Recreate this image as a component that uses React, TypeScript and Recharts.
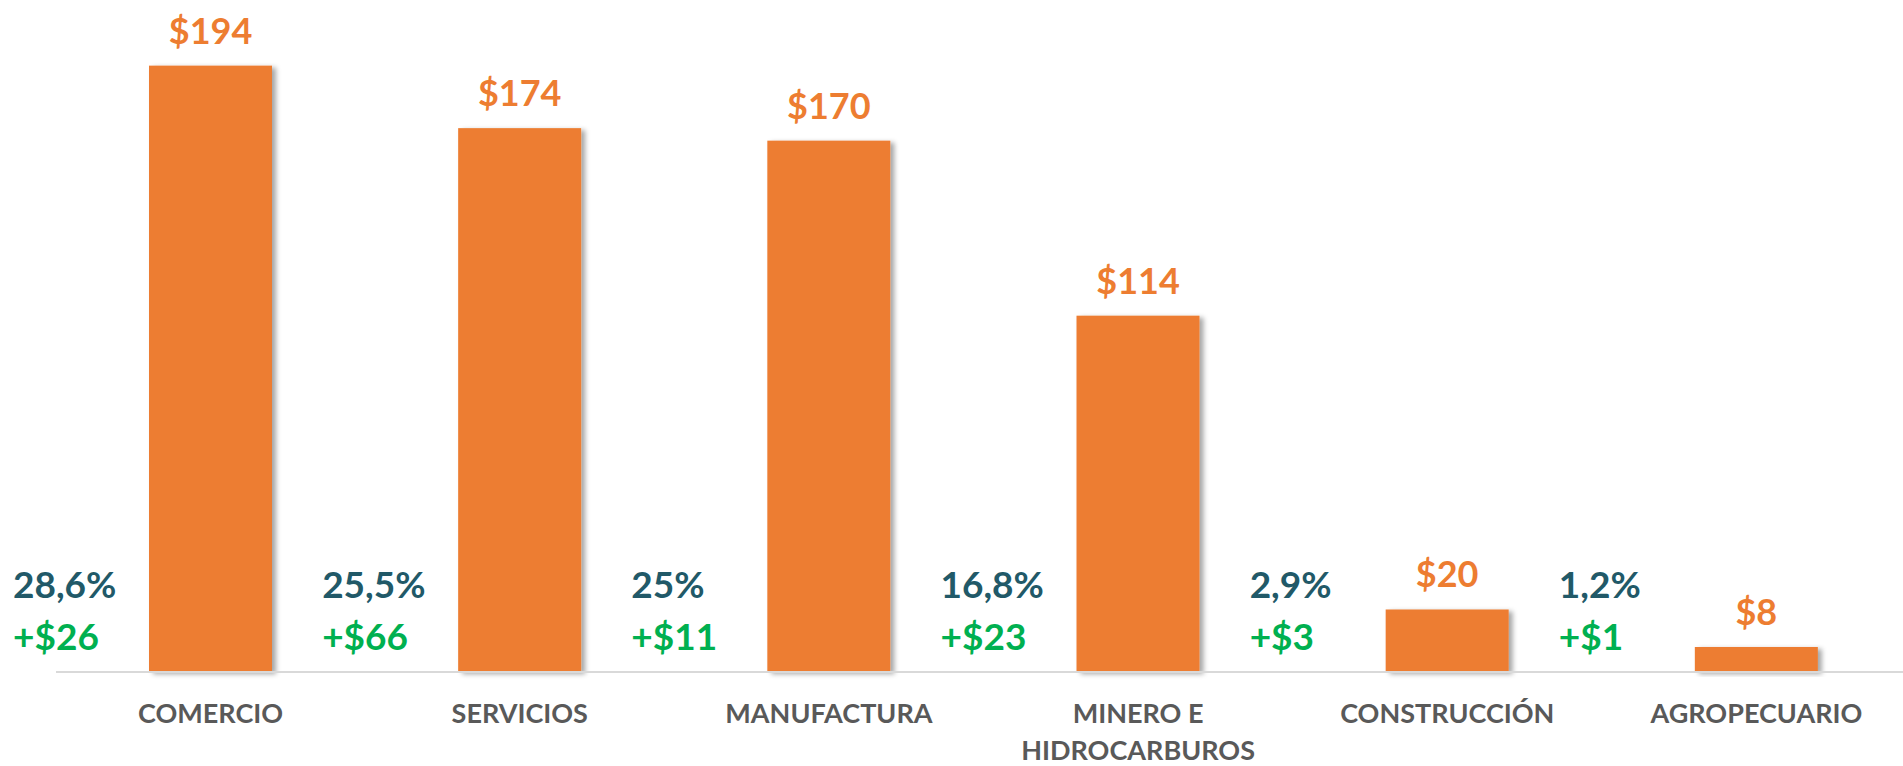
import { Bar, BarChart, LabelList, XAxis, YAxis } from 'recharts'

const categories = ['COMERCIO', 'SERVICIOS', 'MANUFACTURA', 'MINERO E\nHIDROCARBUROS', 'CONSTRUCCIÓN', 'AGROPECUARIO']
const amounts = [194, 174, 170, 114, 20, 8]
const shares = ['28,6%', '25,5%', '25%', '16,8%', '2,9%', '1,2%']
const increases = ['+$26', '+$66', '+$11', '+$23', '+$3', '+$1']

const data = categories.map((name, i) => ({
    name,
    amount: amounts[i],
    share: shares[i],
    increase: increases[i],
}))

const FONT = 'Lato, "Open Sans", sans-serif'
const ORANGE = '#ED7D31'
const TEAL = '#215968'
const GREEN = '#00B050'
const GREY = '#595959'

const CategoryTick = (props: any) => {
    const { x, y, payload } = props
    const lines = String(payload.value).split('\n')
    return (
        <text x={x} y={y + 51} textAnchor="middle" fill={GREY} fontFamily={FONT} fontWeight={700} fontSize={27}>
            {lines.map((line, i) => (
                <tspan key={line} x={x} dy={i === 0 ? 0 : 37}>
                    {line}
                </tspan>
            ))}
        </text>
    )
}

const AmountLabel = (props: any) => {
    const { x, y, width, value } = props
    return (
        <text x={x + width / 2} y={y - 22} textAnchor="middle" fill={ORANGE} fontFamily={FONT} fontWeight={700} fontSize={36}>
            ${value}
        </text>
    )
}

const ShareLabel = (props: any) => {
    const { x, y, height, value } = props
    return (
        <text x={x - 136} y={y + height - 74} fill={TEAL} fontFamily={FONT} fontWeight={700} fontSize={37}>
            {value}
        </text>
    )
}

const IncreaseLabel = (props: any) => {
    const { x, y, height, value } = props
    return (
        <text x={x - 136} y={y + height - 22} fill={GREEN} fontFamily={FONT} fontWeight={700} fontSize={37}>
            {value}
        </text>
    )
}

const ShadowBar = (props: any) => {
    const { x, y, width, height } = props
    return <rect x={x} y={y} width={width} height={height} fill={ORANGE} filter="url(#barShadow)" />
}

export default function App() {
    return (
        <div style={{ position: 'absolute', left: 0, top: 0, width: 1903, height: 766, overflow: 'hidden', background: '#fff' }}>
            <BarChart width={1911} height={766} data={data} margin={{ top: 0, right: 0, left: 56, bottom: 0 }}>
                <defs>
                    <filter id="barShadow" x="-10%" y="-10%" width="130%" height="130%">
                        <feDropShadow dx={4} dy={2} stdDeviation={2.5} floodColor="#000" floodOpacity={0.35} />
                    </filter>
                </defs>
                <XAxis
                    dataKey="name"
                    height={94}
                    interval={0}
                    tickLine={false}
                    tickSize={0}
                    tickMargin={0}
                    axisLine={{ stroke: '#D9D9D9', strokeWidth: 2 }}
                    tick={<CategoryTick />}
                />
                <YAxis hide domain={[0, 215]} />
                <Bar dataKey="amount" barSize={123} shape={<ShadowBar />} isAnimationActive={false}>
                    <LabelList dataKey="amount" content={<AmountLabel />} />
                    <LabelList dataKey="share" content={<ShareLabel />} />
                    <LabelList dataKey="increase" content={<IncreaseLabel />} />
                </Bar>
            </BarChart>
        </div>
    )
}
